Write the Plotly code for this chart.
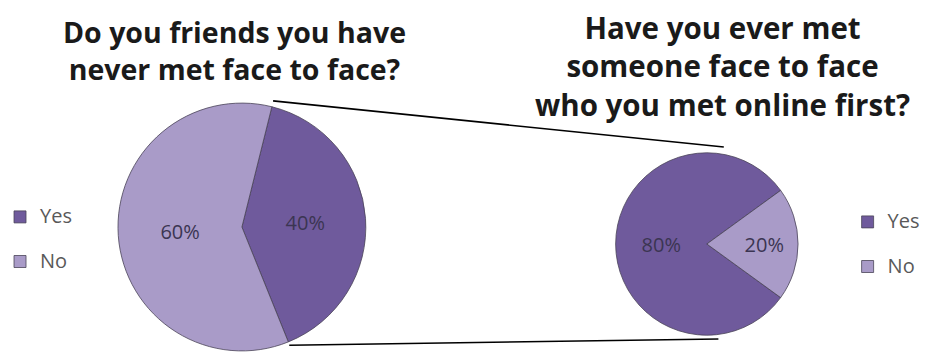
import math
import plotly.graph_objects as go

LABELS = ["Yes", "No"]
LEFT_VALUES = [40, 60]
RIGHT_VALUES = [80, 20]
LEFT_TITLE = "Do you friends you have<br>never met face to face?"
RIGHT_TITLE = "Have you ever met<br>someone face to face<br>who you met online first?"

COLORS = ["#6f5a9c", "#a99bc8"]
W, H = 925, 352

# pie geometry (pixels)
L_CX, L_CY, L_R = 242, 227, 125
R_CX, R_CY, R_R = 711, 244, 92
L_ROT = 14
R_ROT = 126


def dom(cx, cy, r):
    return dict(x=[(cx - r) / W, (cx + r) / W],
                y=[max(0, 1 - (cy + r) / H), min(1, 1 - (cy - r) / H)])


def px(x, y):
    return x / W, 1 - y / H


def rim(cx, cy, r, ang):
    a = math.radians(ang)
    return px(cx + r * math.sin(a), cy - r * math.cos(a))


# legend text: larger visible label plus a blank line to space the entries
legend_labels = ["<span style='font-size:20px'>%s</span><br> " % l for l in LABELS]

common = dict(
    sort=False, direction="clockwise",
    marker=dict(colors=COLORS, line=dict(color="#4a4458", width=0.8)),
    textinfo="percent", textposition="inside",
    insidetextorientation="horizontal",
    textfont=dict(family="Open Sans", size=20, color="#3b3552"),
    hoverinfo="percent",
)

fig = go.Figure()
fig.add_trace(go.Pie(labels=legend_labels, values=LEFT_VALUES, rotation=L_ROT,
                     domain=dom(L_CX, L_CY, L_R), legend="legend",
                     legendgroup="left", **common))
fig.add_trace(go.Pie(labels=legend_labels, values=RIGHT_VALUES, rotation=R_ROT,
                     domain=dom(R_CX, R_CY, R_R), legend="legend2",
                     legendgroup="right", **common))

# connector lines from left pie slice boundaries to the right pie
l_start = L_ROT
l_end = L_ROT + 360 * LEFT_VALUES[0] / sum(LEFT_VALUES)
p1 = rim(L_CX, L_CY, L_R * 1.04, l_start)
p2 = rim(R_CX, R_CY, R_R * 1.07, 10)
p3 = rim(L_CX, L_CY, L_R * 1.02, l_end)
p4 = rim(R_CX, R_CY, R_R * 1.04, 173)
for a, b in [(p1, p2), (p3, p4)]:
    fig.add_shape(type="line", xref="paper", yref="paper",
                  x0=a[0], y0=a[1], x1=b[0], y1=b[1],
                  line=dict(color="black", width=1.6))

fig.add_annotation(text="<b>" + LEFT_TITLE.replace("<br>", "</b><br><b>") + "</b>",
                   x=235 / W, y=1 - 11 / H, xref="paper", yref="paper",
                   xanchor="center", yanchor="top", showarrow=False,
                   font=dict(family="Open Sans", size=28.5, color="#1a1a1a"),
                   align="center")
fig.add_annotation(text="<b>" + RIGHT_TITLE.replace("<br>", "</b><br><b>") + "</b>",
                   x=727 / W, y=1 - 5 / H, xref="paper", yref="paper",
                   xanchor="center", yanchor="top", showarrow=False,
                   font=dict(family="Open Sans", size=29.5, color="#1a1a1a"),
                   align="center")

leg_font = dict(family="Open Sans", size=16, color="#595959")
fig.update_layout(
    width=W, height=H,
    margin=dict(l=0, r=0, t=0, b=0),
    paper_bgcolor="white", plot_bgcolor="white",
    legend=dict(x=-2 / W, y=1 - 200 / H, xanchor="left", yanchor="top",
                font=leg_font, valign="top", bgcolor="rgba(0,0,0,0)"),
    legend2=dict(x=853 / W, y=1 - 205 / H, xanchor="left", yanchor="top",
                 font=leg_font, valign="top", bgcolor="rgba(0,0,0,0)"),
)

fig.write_html("out.html")
